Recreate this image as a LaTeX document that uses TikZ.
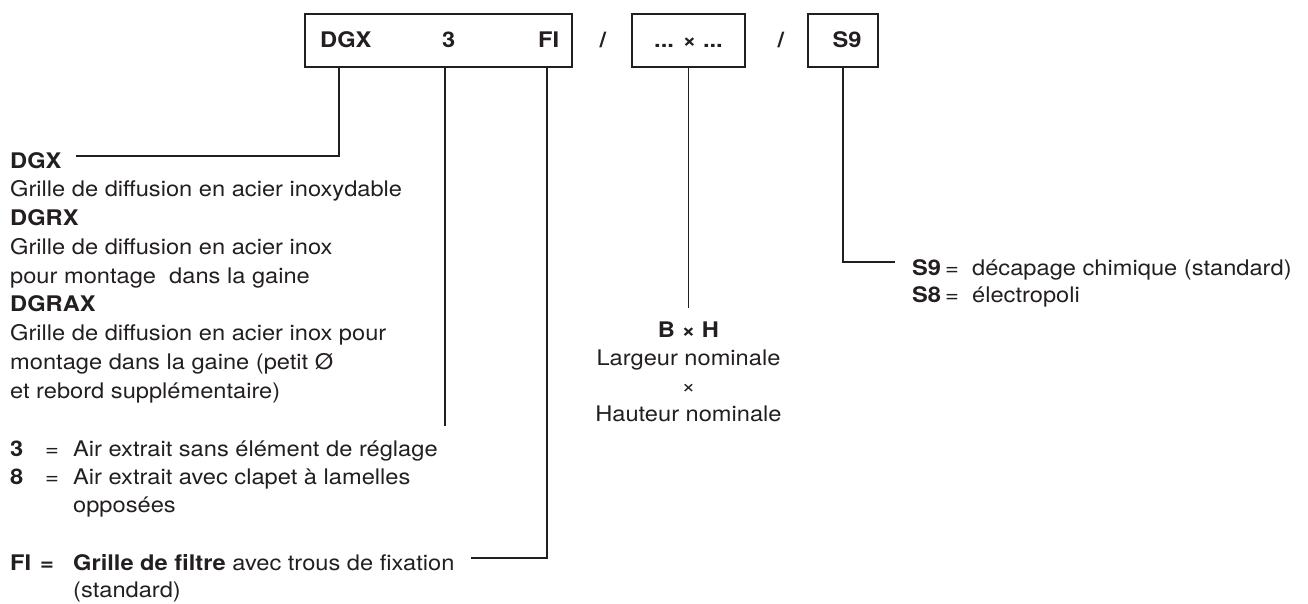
\documentclass[tikz,border=0pt]{standalone}
\usepackage{fontspec}
\setmainfont[FakeStretch=1.1]{TeX Gyre Heros}
\definecolor{ink}{HTML}{231F20}
\begin{document}
\begin{tikzpicture}[x=1pt,y=-1pt,
  font=\fontsize{21.5pt}{28.75pt}\selectfont,
  txt/.style={anchor=base west, inner sep=0pt, text=ink},
  ctxt/.style={anchor=base, inner sep=0pt, text=ink},
  box/.style={draw=ink, line width=1.2pt, inner sep=0pt},
  ln/.style={draw=ink, line width=1.2pt}]
\useasboundingbox (0,0) rectangle (1308,604);

% top code boxes
\node[box, minimum width=267pt, minimum height=53pt] (b1) at (438.5,40.5) {};
\node[box, minimum width=113pt, minimum height=53pt] (b2) at (688.5,40.5) {};
\node[box, minimum width=70pt, minimum height=53pt] (b3) at (843,40.5) {};
\node[txt] (tDGX) at (320,48) {\bfseries DGX};
\node[txt] (t3) at (442,48) {\bfseries 3};
\node[txt] (tFI) at (538,48) {\bfseries FI};
\node[ctxt] (s1) at (603,48) {\bfseries /};
\node[ctxt] (tBH) at (688.5,48) {\bfseries ... × ...};
\node[ctxt] (s2) at (781,48) {\bfseries /};
\node[ctxt] (tS9) at (847,48) {\bfseries S9};

% left block: types
\node[txt] (l1) at (10,168) {\bfseries DGX};
\node[txt] (l2) at (10,196.75) {Grille de diffusion en acier inoxydable};
\node[txt] (l3) at (10,225.5) {\bfseries DGRX};
\node[txt] (l4) at (10,254.25) {Grille de diffusion en acier inox};
\node[txt] (l5) at (10,283) {pour montage\ \ dans la gaine};
\node[txt] (l6) at (10,311.75) {\bfseries DGRAX};
\node[txt] (l7) at (10,340.5) {Grille de diffusion en acier inox pour};
\node[txt] (l8) at (10,369.25) {montage dans la gaine (petit Ø};
\node[txt] (l9) at (10,398) {et rebord supplémentaire)};

% left block: 3 / 8
\node[txt] (m1) at (10,456) {\makebox[35pt][l]{\bfseries 3}\makebox[28pt][l]{=}Air extrait sans élément de réglage};
\node[txt] (m2) at (10,484.5) {\makebox[35pt][l]{\bfseries 8}\makebox[28pt][l]{=}Air extrait avec clapet à lamelles};
\node[txt] (m3) at (73,512.5) {opposées};

% left block: FI
\node[txt] (n1) at (10,570) {\makebox[30pt][l]{\bfseries FI}\makebox[33pt][l]{\bfseries =}\textbf{Grille de filtre} avec trous de fixation};
\node[txt] (n2) at (73,597) {(standard)};

% centre block
\node[ctxt] (c1) at (688.5,337) {\bfseries B × H};
\node[ctxt] (c2) at (688.5,365) {Largeur nominale};
\node[ctxt] (c3) at (688.5,393) {×};
\node[ctxt] (c4) at (688.5,421) {Hauteur nominale};

% right block
\node[txt] (r1) at (912,275) {\makebox[33pt][l]{\bfseries S9}\makebox[27pt][l]{=}décapage chimique (standard)};
\node[txt] (r2) at (912,302) {\makebox[33pt][l]{\bfseries S8}\makebox[27pt][l]{=}électropoli};

% connector points
\coordinate (kDGX) at (339,156);
\coordinate (eDGX) at (76,156);
\coordinate (k3) at (445,426);
\coordinate (kFI) at (547,558);
\coordinate (eFI) at (471,558);
\coordinate (kBH) at (688.5,308);
\coordinate (kS9) at (843,262);
\coordinate (eS9) at (895,262);

% connectors
\draw[ln] (b1.south -| kDGX) -- (kDGX) -- (eDGX);
\draw[ln] (b1.south -| k3) -- (k3);
\draw[ln] (b1.south -| kFI) -- (kFI) -- (eFI);
\draw[ln] (b2.south) -- (kBH);
\draw[ln] (b3.south) -- (kS9) -- (eS9);
\end{tikzpicture}
\end{document}
